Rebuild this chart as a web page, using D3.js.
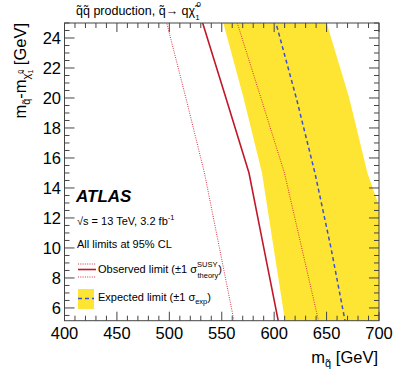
<!DOCTYPE html>
<html><head><meta charset="utf-8">
<script src="https://cdn.jsdelivr.net/npm/d3@7"></script>
<style>
body{margin:0;background:#fff;}
svg{display:block;font-family:"Liberation Sans",Arial,Helvetica,sans-serif;}
</style></head>
<body><svg id="c" width="399" height="383"></svg>
<script>
// ---- data (mass splitting grid in GeV, squark mass in GeV) ----
const dmGrid      = [5, 10, 15, 20, 25];
const observed    = [604.3, 590.1, 576.0, 554.0, 531.8];
const obsTheoDown = [562.1, 547.8, 533.5, 515.8, 497.5];
const obsTheoUp   = [642.8, 626.3, 609.8, 587.4, 564.8];
const expected    = [668.0, 654.2, 638.9, 621.1, 601.7];
const expBandLow  = [610.7, 599.5, 588.4, 570.8, 551.5];
const expBandHigh = [740.0, 714.0, 689.0, 671.6, 650.1];
const xTicks = [400, 450, 500, 550, 600, 650, 700];
const yTicks = [6, 8, 10, 12, 14, 16, 18, 20, 22, 24];

const L = 64.5, R = 379, T = 23, B = 320.7;
const svg = d3.select("#c");
const x = d3.scaleLinear().domain([400, 700]).range([L, R]);
const y = d3.scaleLinear().domain([5.15, 25]).range([B, T]);

svg.append("defs").append("clipPath").attr("id", "clip")
  .append("rect").attr("x", L).attr("y", T).attr("width", R - L).attr("height", B - T);
const g = svg.append("g").attr("clip-path", "url(#clip)");

// band
const band = d3.area().x0((d,i)=>x(expBandLow[i])).x1((d,i)=>x(expBandHigh[i])).y(d=>y(d));
g.append("path").datum(dmGrid).attr("d", band).attr("fill", "#ffe533");

const line = arr => d3.line().x((d,i)=>x(arr[i])).y(d=>y(d))(dmGrid);
const red = "#c0182a";
g.append("path").attr("d", line(obsTheoDown)).attr("fill","none").attr("stroke","#d8303c")
  .attr("stroke-width",1).attr("stroke-dasharray","1,1.3");
g.append("path").attr("d", line(obsTheoUp)).attr("fill","none").attr("stroke","#d8303c")
  .attr("stroke-width",1).attr("stroke-dasharray","1,1.3");
g.append("path").attr("d", line(observed)).attr("fill","none").attr("stroke",red).attr("stroke-width",1.6);
g.append("path").attr("d", line(expected)).attr("fill","none").attr("stroke","#3b4fd6")
  .attr("stroke-width",1.5).attr("stroke-dasharray","4,3");

// axes frame
const axCol = "#444";
svg.append("rect").attr("x", L).attr("y", T).attr("width", R - L).attr("height", B - T)
  .attr("fill", "none").attr("stroke", axCol).attr("stroke-width", 1);

const ax = svg.append("g").attr("stroke", axCol).attr("stroke-width", 1);
const xMinor = d3.range(400, 701, 10);
xMinor.forEach(v => {
  const len = v % 50 === 0 ? 9 : 5;
  ax.append("line").attr("x1", x(v)).attr("x2", x(v)).attr("y1", B).attr("y2", B - len);
  ax.append("line").attr("x1", x(v)).attr("x2", x(v)).attr("y1", T).attr("y2", T + len);
});
const yMinor = d3.range(5.5, 25.01, 0.5);
yMinor.forEach(v => {
  const len = Math.abs(v % 2) < 1e-6 ? 10 : 5;
  ax.append("line").attr("y1", y(v)).attr("y2", y(v)).attr("x1", L).attr("x2", L + len);
  ax.append("line").attr("y1", y(v)).attr("y2", y(v)).attr("x1", R).attr("x2", R - len);
});

// tick labels
svg.selectAll(".xt").data(xTicks).enter().append("text")
  .attr("x", d => x(d)).attr("y", 339).attr("text-anchor", "middle")
  .attr("font-size", 16.5).attr("fill", "#000").text(d => d);
svg.selectAll(".yt").data(yTicks).enter().append("text")
  .attr("x", 61).attr("y", d => y(d) + 6).attr("text-anchor", "end")
  .attr("font-size", 16.5).attr("fill", "#000").text(d => d);

// x title
const xt = svg.append("text").attr("x", 378).attr("y", 363).attr("text-anchor", "end")
  .attr("font-size", 16.5);
xt.append("tspan").text("m");
xt.append("tspan").attr("font-size", 11).attr("dy", 4).text("q\u0303");
xt.append("tspan").attr("dy", -4).text(" [GeV]");

// y title
const yt = svg.append("text").attr("transform", "translate(26,23) rotate(-90)")
  .attr("text-anchor", "end").attr("font-size", 16.5);
yt.append("tspan").text("m");
yt.append("tspan").attr("font-size", 11).attr("dy", 4).text("q\u0303");
yt.append("tspan").attr("dy", -4).text("-m");
yt.append("tspan").attr("font-size", 11).attr("dy", 4).text("\u03c7\u0303");
yt.append("tspan").attr("font-size", 7).attr("dy", 3).text("1");
yt.append("tspan").attr("font-size", 7).attr("dx", -4).attr("dy", -10).text("0");
yt.append("tspan").attr("dy", 3).text(" [GeV]");

// top title
const tt = svg.append("text").attr("x", 76).attr("y", 15).attr("font-size", 12.5);
tt.append("tspan").text("q\u0303q\u0303 production, q\u0303\u2192 q\u03c7\u0303");
tt.append("tspan").attr("font-size", 8).attr("dy", 5).text("1");
tt.append("tspan").attr("font-size", 8).attr("dx", -3).attr("dy", -13).text("0");

// ATLAS labels
svg.append("text").attr("x", 76).attr("y", 202).attr("font-size", 17)
  .attr("font-weight", "bold").attr("font-style", "italic").text("ATLAS");
const s1 = svg.append("text").attr("x", 77).attr("y", 225).attr("font-size", 11);
s1.append("tspan").text("\u221as = 13 TeV, 3.2 fb");
s1.append("tspan").attr("font-size", 7.5).attr("dy", -5).text("-1");
svg.append("text").attr("x", 77).attr("y", 248).attr("font-size", 11).text("All limits at 95% CL");

// legend
const lg = svg.append("g");
lg.append("line").attr("x1", 78).attr("x2", 96).attr("y1", 269.5).attr("y2", 269.5)
  .attr("stroke", red).attr("stroke-width", 1.6);
[264, 277].forEach(yy => lg.append("line").attr("x1", 78).attr("x2", 96).attr("y1", yy).attr("y2", yy)
  .attr("stroke", "#d8303c").attr("stroke-width", 1).attr("stroke-dasharray", "1,1.3"));
const l1 = lg.append("text").attr("x", 98).attr("y", 273).attr("font-size", 11);
l1.append("tspan").text("Observed limit (\u00b11 \u03c3");
l1.append("tspan").attr("font-size", 7.5).attr("dy", -6).text("SUSY");
l1.append("tspan").attr("font-size", 7.5).attr("dx", -20).attr("dy", 11).text("theory");
l1.append("tspan").attr("dy", -5).text(")");

lg.append("rect").attr("x", 78).attr("y", 289).attr("width", 16).attr("height", 20).attr("fill", "#ffe533");
lg.append("line").attr("x1", 78).attr("x2", 94).attr("y1", 298.5).attr("y2", 298.5)
  .attr("stroke", "#3b4fd6").attr("stroke-width", 1.5).attr("stroke-dasharray", "4,3");
const l2 = lg.append("text").attr("x", 98).attr("y", 301).attr("font-size", 11);
l2.append("tspan").text("Expected limit (\u00b11 \u03c3");
l2.append("tspan").attr("font-size", 7.5).attr("dy", 3).text("exp");
l2.append("tspan").attr("dy", -3).text(")");
</script></body></html>
